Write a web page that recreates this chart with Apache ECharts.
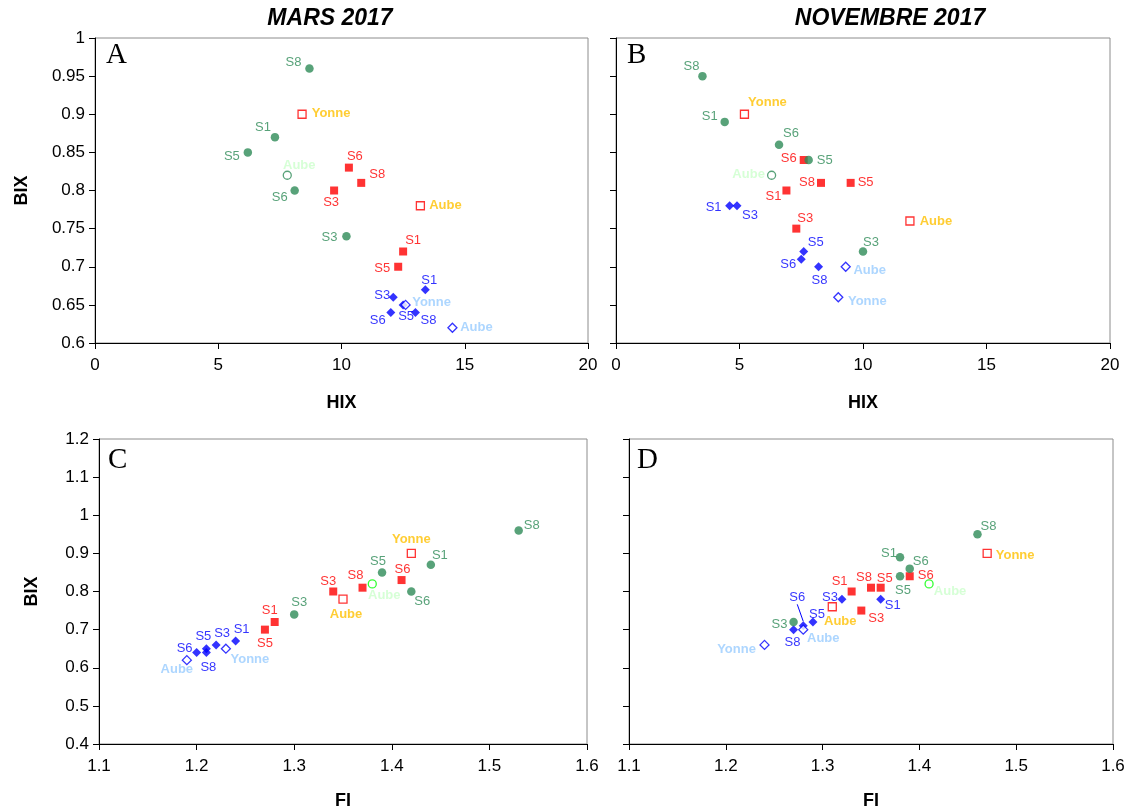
<!DOCTYPE html>
<html><head><meta charset="utf-8">
<script src="https://cdn.jsdelivr.net/npm/echarts@6/dist/echarts.min.js"></script>
<style>html,body{margin:0;padding:0;background:#fff}#c{width:1133px;height:812px}</style>
</head><body><div id="c"></div>
<script>
// ---------- DATA ----------
const sites = ['S1', 'S3', 'S5', 'S6', 'S8'];
const greenRivers = ['Aube'];
const redRivers = ['Yonne', 'Aube'];
const blueRivers = ['Yonne', 'Aube'];

const xTicksHIX = [0, 5, 10, 15, 20];
const xTicksFI = [1.1, 1.2, 1.3, 1.4, 1.5, 1.6];

// MARS 2017 — sites (S1,S3,S5,S6,S8)
const marsGreenHIX = [7.3, 10.2, 6.2, 8.1, 8.7];
const marsGreenBIX = [0.87, 0.74, 0.85, 0.80, 0.96];
const marsGreenFI  = [1.44, 1.30, 1.39, 1.42, 1.53];
const marsRedHIX   = [12.5, 9.7, 12.3, 10.3, 10.8];
const marsRedBIX   = [0.72, 0.80, 0.70, 0.83, 0.81];
const marsRedFI    = [1.28, 1.34, 1.27, 1.41, 1.37];
const marsBlueHIX  = [13.4, 12.1, 12.5, 12.0, 13.0];
const marsBlueBIX  = [0.67, 0.66, 0.65, 0.64, 0.64];
const marsBlueFI   = [1.24, 1.22, 1.21, 1.20, 1.21];
// MARS 2017 — rivers
const marsGreenRivHIX = [7.8];
const marsGreenRivBIX = [0.82];
const marsGreenRivFI  = [1.38];
const marsRedRivHIX   = [8.4, 13.2];
const marsRedRivBIX   = [0.90, 0.78];
const marsRedRivFI    = [1.42, 1.35];
const marsBlueRivHIX  = [12.6, 14.5];
const marsBlueRivBIX  = [0.65, 0.62];
const marsBlueRivFI   = [1.23, 1.19];

// NOVEMBRE 2017 — sites
const novGreenHIX = [4.4, 10.0, 7.8, 6.6, 3.5];
const novGreenBIX = [0.89, 0.72, 0.84, 0.86, 0.95];
const novGreenFI  = [1.38, 1.27, 1.38, 1.39, 1.46];
const novRedHIX   = [6.9, 7.3, 9.5, 7.6, 8.3];
const novRedBIX   = [0.80, 0.75, 0.81, 0.84, 0.81];
const novRedFI    = [1.33, 1.34, 1.36, 1.39, 1.35];
const novBlueHIX  = [4.6, 4.9, 7.6, 7.5, 8.2];
const novBlueBIX  = [0.78, 0.78, 0.72, 0.71, 0.70];
const novBlueFI   = [1.36, 1.32, 1.29, 1.28, 1.27];
// NOVEMBRE 2017 — rivers
const novGreenRivHIX = [6.3];
const novGreenRivBIX = [0.82];
const novGreenRivFI  = [1.41];
const novRedRivHIX   = [5.2, 11.9];
const novRedRivBIX   = [0.90, 0.76];
const novRedRivFI    = [1.47, 1.31];
const novBlueRivHIX  = [9.0, 9.3];
const novBlueRivBIX  = [0.66, 0.70];
const novBlueRivFI   = [1.24, 1.28];

// ---------- LABEL PLACEMENT (style only) ----------
const LBL = {
  A: { green: [[-12,-10],[-17,1],[-16,4],[-15,7],[-16,-6]], greenRiv: [[12,-10]],
       red: [[10,-11],[-3,12],[-16,2],[6,-11],[16,-8]], redRiv: [[29,-1],[25,0]],
       blue: [[4,-9],[-11,-2],[3,12],[-13,8],[13,8]], blueRiv: [[26,-2],[24,0]] },
  B: { green: [[-15,-5],[8,-9],[16,0],[12,-11],[-11,-10]], greenRiv: [[-23,-1]],
       red: [[-13,6],[9,-10],[15,0],[-15,-2],[-14,0]], redRiv: [[23,-12],[26,0]],
       blue: [[-16,2],[13,10],[12,-9],[-13,5],[1,14]], blueRiv: [[29,4],[24,4]] },
  C: { green: [[9,-9],[5,-12],[-4,-11],[11,10],[13,-5]], greenRiv: [[12,12]],
       red: [[-5,-12],[-5,-10],[0,14],[1,-11],[-7,-12]], redRiv: [[0,-14],[3,15]],
       blue: [[6,-12],[6,-11],[-3,-12],[-12,-4],[2,15]], blueRiv: [[24,11],[-10,9]] },
  D: { green: [[-11,-4],[-14,2],[3,14],[11,-7],[11,-8]], greenRiv: [[21,8]],
       red: [[-12,-10],[15,8],[4,-9],[16,-1],[-7,-10]], redRiv: [[28,2],[8,15]],
       blue: [[12,6],[-12,-2],[4,-8],[-6,-28],[-1,13]], blueRiv: [[-28,5],[20,9]] }
};
// label connected to its point by a leader line (panel D, blue S6)
const LEADER = { D: { blue: 3 } };

const FONT = "'Liberation Sans', Arial, sans-serif";
const SEAGREEN = '#2E8B57', RED = '#FF0000', BLUE = '#0000FF';

function mk(gi, names, xs, ys, offs, opt) {
  const useLayout = opt.leader !== undefined;
  const data = names.map((n, i) => {
    const d = { name: n, value: [xs[i], ys[i]] };
    if (useLayout) {
      d.label = { offset: [0, 0] };
      d.labelLine = { show: i === opt.leader };
    } else {
      d.label = { offset: offs[i] };
    }
    return d;
  });
  const s = {
    type: 'scatter', xAxisIndex: gi, yAxisIndex: gi,
    symbol: opt.symbol, symbolSize: opt.size,
    itemStyle: opt.open
      ? { color: '#ffffff', borderColor: opt.color, borderWidth: 1.3 }
      : { color: opt.color },
    label: {
      show: true, position: 'inside', formatter: '{b}',
      align: 'center', verticalAlign: 'middle',
      color: opt.labelColor, fontFamily: FONT, fontSize: 13,
      fontWeight: opt.bold ? 'bold' : 'normal'
    },
    emphasis: { disabled: true },
    animation: false,
    data: data
  };
  if (useLayout) {
    s.labelLayout = function (p) { const o = offs[p.dataIndex]; return { dx: o[0], dy: o[1] }; };
    s.labelLine = { show: false, lineStyle: { color: opt.color, width: 1 } };
  }
  return s;
}

function panelSeries(gi, key, G, R, B, GR, RR, BR, riverGreenColor) {
  const L = LBL[key];
  const lead = LEADER[key] || {};
  return [
    mk(gi, sites, R[0], R[1], L.red, { symbol: 'rect', size: 8, color: RED, labelColor: RED }),
    mk(gi, sites, B[0], B[1], L.blue, { symbol: 'diamond', size: 9, color: BLUE, labelColor: BLUE, leader: lead.blue }),
    mk(gi, sites, G[0], G[1], L.green, { symbol: 'circle', size: 8.5, color: SEAGREEN, labelColor: SEAGREEN }),
    mk(gi, greenRivers, GR[0], GR[1], L.greenRiv, { symbol: 'circle', size: 8, color: riverGreenColor, labelColor: '#CCFFCC', bold: true, open: true }),
    mk(gi, redRivers, RR[0], RR[1], L.redRiv, { symbol: 'rect', size: 8, color: RED, labelColor: '#FFC000', bold: true, open: true }),
    mk(gi, blueRivers, BR[0], BR[1], L.blueRiv, { symbol: 'diamond', size: 9, color: BLUE, labelColor: '#99CCFF', bold: true, open: true })
  ];
}

const grids = [
  { left: 95, top: 38, width: 493, height: 305 },
  { left: 616, top: 38, width: 494, height: 305 },
  { left: 99, top: 439, width: 488, height: 305 },
  { left: 629, top: 439, width: 484, height: 305 }
].map(g => Object.assign(g, { show: true, borderColor: '#8c8c8c', borderWidth: 1, backgroundColor: 'transparent' }));

const axisCommon = {
  axisLine: { show: true, onZero: false, lineStyle: { color: '#000', width: 1 } },
  axisTick: { show: true, inside: false, length: 6, lineStyle: { color: '#000' } },
  splitLine: { show: false },
  nameTextStyle: { fontFamily: FONT, fontSize: 18, fontWeight: 'bold', color: '#000' }
};

function xAxis(gi, isHIX) {
  const t = isHIX ? xTicksHIX : xTicksFI;
  return Object.assign({}, axisCommon, {
    type: 'value', gridIndex: gi, position: 'bottom',
    min: t[0], max: t[t.length - 1], interval: isHIX ? 5 : 0.1,
    name: isHIX ? 'HIX' : 'FI', nameLocation: 'middle', nameGap: isHIX ? 51 : 48,
    axisLabel: { show: true, margin: 14, fontFamily: FONT, fontSize: 17, color: '#000' }
  });
}
function yAxis(gi, top, showLbl) {
  return Object.assign({}, axisCommon, {
    type: 'value', gridIndex: gi, position: 'left',
    min: top ? 0.6 : 0.4, max: top ? 1 : 1.2, interval: top ? 0.05 : 0.1,
    name: showLbl ? 'BIX' : '', nameLocation: 'middle', nameGap: top ? 64 : 58, nameRotate: 90,
    axisLabel: { show: showLbl, margin: 10, fontFamily: FONT, fontSize: 17, color: '#000' }
  });
}

const letter = (t, l, tp) => ({ text: t, left: l, top: tp, padding: 0,
  textStyle: { fontFamily: "'Liberation Serif', 'Times New Roman', serif", fontSize: 29, fontWeight: 'normal', color: '#000' } });
const heading = (t, l) => ({ text: t, left: l, top: 7, padding: 0, textAlign: 'center',
  textStyle: { fontFamily: FONT, fontSize: 23, fontWeight: 'bold', fontStyle: 'italic', color: '#000' } });

const option = {
  backgroundColor: '#fff',
  animation: false,
  title: [
    heading('MARS 2017', 330), heading('NOVEMBRE 2017', 890),
    letter('A', 106, 41), letter('B', 627, 41), letter('C', 108, 446), letter('D', 637, 446)
  ],
  grid: grids,
  xAxis: [xAxis(0, true), xAxis(1, true), xAxis(2, false), xAxis(3, false)],
  yAxis: [yAxis(0, true, true), yAxis(1, true, false), yAxis(2, false, true), yAxis(3, false, false)],
  series: [].concat(
    panelSeries(0, 'A', [marsGreenHIX, marsGreenBIX], [marsRedHIX, marsRedBIX], [marsBlueHIX, marsBlueBIX],
      [marsGreenRivHIX, marsGreenRivBIX], [marsRedRivHIX, marsRedRivBIX], [marsBlueRivHIX, marsBlueRivBIX], SEAGREEN),
    panelSeries(1, 'B', [novGreenHIX, novGreenBIX], [novRedHIX, novRedBIX], [novBlueHIX, novBlueBIX],
      [novGreenRivHIX, novGreenRivBIX], [novRedRivHIX, novRedRivBIX], [novBlueRivHIX, novBlueRivBIX], SEAGREEN),
    panelSeries(2, 'C', [marsGreenFI, marsGreenBIX], [marsRedFI, marsRedBIX], [marsBlueFI, marsBlueBIX],
      [marsGreenRivFI, marsGreenRivBIX], [marsRedRivFI, marsRedRivBIX], [marsBlueRivFI, marsBlueRivBIX], '#00FF00'),
    panelSeries(3, 'D', [novGreenFI, novGreenBIX], [novRedFI, novRedBIX], [novBlueFI, novBlueBIX],
      [novGreenRivFI, novGreenRivBIX], [novRedRivFI, novRedRivBIX], [novBlueRivFI, novBlueRivBIX], '#00FF00')
  )
};

const chart = echarts.init(document.getElementById('c'), null, { renderer: 'canvas' });
chart.setOption(option);
</script>
</body></html>
